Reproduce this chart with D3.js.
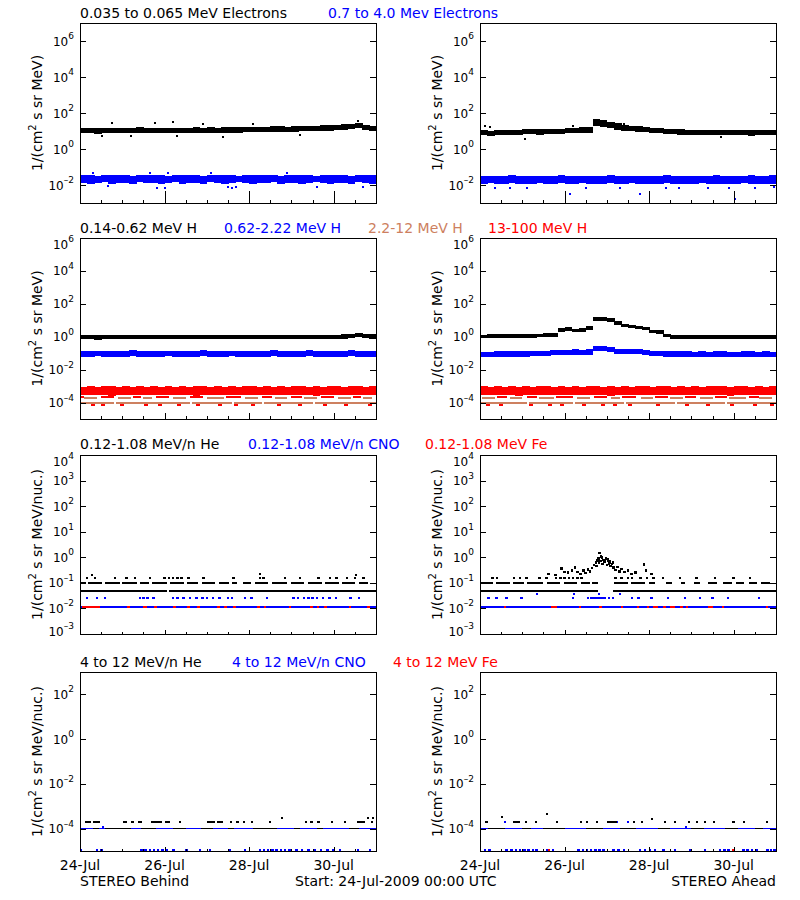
<!DOCTYPE html>
<html><head><meta charset="utf-8">
<script src="https://cdn.jsdelivr.net/npm/d3@7"></script>
<style>
body{margin:0;background:#fff;}
svg{display:block;font-family:"DejaVu Sans",sans-serif;}
</style></head><body>
<svg id="c" width="800" height="900"></svg>
<script>
// ================= DATA =================
const spanDays = 7;
const majorDays = [0, 2, 4, 6];
const majorLabels = ["24-Jul", "26-Jul", "28-Jul", "30-Jul"];
const minorDays = [0.5, 1, 1.5, 2.5, 3, 3.5, 4.5, 5, 5.5, 6.5];

// Row 1 : electrons (4-hour bins, lower / upper edge of the scatter band)
const eBehLowLo = [7.4,7.6,7.2,7.5,7.7,7.3, 7.6,7.4,7.8,7.5,7.3,7.6, 7.7,7.4,7.6,7.5,7.8,7.7, 7.9,7.6,8.0,8.2,7.9,8.3, 8.5,8.6,8.4,8.8,9.0,8.7, 9.2,9.4,9.6,9.9,10.2,10.6, 11.0,11.5,12.5,14.5,11.0,9.8];
const eBehLowHi = [15.0,15.5,14.8,15.2,15.6,14.9, 15.3,15.0,15.8,15.1,14.8,15.3, 15.5,15.0,15.4,15.1,15.9,15.6, 16.0,15.6,16.3,16.6,16.1,16.9, 17.2,17.5,17.0,17.8,18.2,17.6, 18.5,19.0,19.4,20.0,20.6,21.5, 22.5,23.0,25.0,29.0,21.0,19.5];
const eBehHighLo = [0.013,0.012,0.013,0.014,0.012,0.013, 0.013,0.012,0.014,0.013,0.013,0.012, 0.013,0.014,0.012,0.013,0.013,0.012, 0.014,0.013,0.012,0.013,0.014,0.013, 0.012,0.013,0.013,0.014,0.012,0.013, 0.013,0.012,0.013,0.014,0.013,0.012, 0.013,0.013,0.012,0.014,0.013,0.012];
const eBehHighHi = [0.034,0.036,0.033,0.035,0.037,0.034, 0.035,0.033,0.036,0.038,0.034,0.035, 0.033,0.036,0.035,0.034,0.037,0.033, 0.035,0.036,0.034,0.035,0.033,0.036, 0.035,0.034,0.037,0.035,0.033,0.036, 0.034,0.035,0.036,0.033,0.035,0.034, 0.036,0.035,0.033,0.034,0.036,0.035];
const eAhdLowLo = [5.8,5.6,5.9,5.7,6.0,6.2, 6.4,6.6,6.3,6.8,7.0,6.9, 7.3,7.6,7.9,8.2,18,16, 14,12,10.5,9.5,9.0,8.5, 8.0,7.5,7.0,6.6,6.3,6.1, 6.0,5.8,5.9,5.7,5.8,5.9, 5.7,5.8,5.6,5.9,5.8,5.7];
const eAhdLowHi = [11.0,10.6,11.2,10.8,11.5,12.0, 12.4,12.8,12.2,13.2,13.6,13.4, 14.5,15.3,16.0,16.8,44,40, 32,27,22,19.5,18,16.5, 15.5,14.5,13.5,12.8,12.2,11.8, 11.5,11.0,11.3,10.8,11.2,11.4, 10.9,11.1,10.7,11.3,11.0,10.9];
const eAhdHighLo = [0.012,0.013,0.012,0.012,0.013,0.012, 0.012,0.011,0.013,0.012,0.012,0.013, 0.012,0.012,0.013,0.012,0.011,0.012, 0.013,0.012,0.012,0.013,0.012,0.012, 0.011,0.012,0.013,0.012,0.012,0.011, 0.012,0.013,0.012,0.012,0.011,0.012, 0.012,0.013,0.012,0.012,0.011,0.012];
const eAhdHighHi = [0.031,0.033,0.030,0.032,0.034,0.031, 0.032,0.030,0.033,0.031,0.032,0.034, 0.031,0.033,0.032,0.030,0.033,0.032, 0.034,0.031,0.032,0.033,0.031,0.032, 0.030,0.033,0.034,0.031,0.032,0.030, 0.033,0.032,0.031,0.034,0.032,0.031, 0.033,0.032,0.034,0.031,0.033,0.035];
const eBehLowOut = [[0.51,5],[0.75,28],[1.2,5.5],[1.77,28],[2.19,31],[2.3,5.5],[2.91,23],[3.38,4.8],[4.1,24],[5.2,5.8],[6.57,36]];
const eBehHighOut = [[0.66,0.0083],[1.83,0.0068],[2.0,0.007],[3.5,0.0075],[3.6,0.0072],[3.7,0.0075],[5.6,0.008],[6.7,0.0078],[1.65,0.046],[2.09,0.047],[4.9,0.046],[0.3,0.045],[3.1,0.044]];
const eAhdLowOut = [[0.12,18],[0.23,16],[1.06,3.7],[5.7,4.5],[2.2,19],[3.4,23]];
const eAhdHighOut = [[2.13,0.0033],[3.78,0.0033],[6.03,0.0017],[0.35,0.007],[0.72,0.0068],[1.1,0.0072],[2.5,0.0069],[3.3,0.007],[4.4,0.0068],[4.7,0.0071],[5.4,0.0069],[5.9,0.007],[6.5,0.0068],[6.95,0.0075]];

// Row 2 : protons
const hBehLowLo = [0.68,0.70,0.67,0.69,0.70,0.68, 0.69,0.71,0.68,0.70,0.69,0.71, 0.70,0.68,0.70,0.71,0.69,0.70, 0.71,0.70,0.72,0.70,0.71,0.72, 0.71,0.73,0.72,0.71,0.73,0.72, 0.74,0.73,0.75,0.74,0.76,0.75, 0.77,0.78,0.82,0.95,0.82,0.78];
const hBehLowHi = [1.22,1.25,1.20,1.24,1.26,1.22, 1.24,1.27,1.22,1.25,1.24,1.27, 1.25,1.22,1.25,1.27,1.24,1.25, 1.27,1.25,1.28,1.25,1.27,1.28, 1.27,1.30,1.28,1.27,1.30,1.28, 1.31,1.30,1.32,1.31,1.34,1.33, 1.36,1.38,1.45,1.68,1.42,1.38];
const hBehMidLo = [0.062,0.060,0.063,0.061,0.062,0.060, 0.061,0.063,0.062,0.060,0.062,0.061, 0.063,0.061,0.062,0.060,0.062,0.063, 0.061,0.062,0.060,0.063,0.061,0.062, 0.062,0.060,0.061,0.063,0.062,0.061, 0.060,0.062,0.063,0.061,0.062,0.060, 0.062,0.061,0.063,0.062,0.061,0.062];
const hBehMidHi = [0.142,0.138,0.145,0.140,0.143,0.139, 0.141,0.146,0.142,0.139,0.144,0.141, 0.145,0.140,0.142,0.138,0.143,0.146, 0.140,0.143,0.139,0.145,0.141,0.143, 0.144,0.139,0.141,0.146,0.143,0.140, 0.139,0.143,0.146,0.141,0.144,0.140, 0.143,0.141,0.146,0.144,0.141,0.143];
const hBehHighLo = [0.00028,0.00027,0.00029,0.00028,0.00026,0.00028, 0.00029,0.00027,0.00028,0.00030,0.00028,0.00027, 0.00028,0.00029,0.00027,0.00028,0.00026,0.00028, 0.00029,0.00028,0.00027,0.00028,0.00030,0.00028, 0.00027,0.00028,0.00029,0.00027,0.00028,0.00028, 0.00029,0.00027,0.00028,0.00026,0.00028,0.00029, 0.00028,0.00027,0.00028,0.00029,0.00028,0.00027];
const hBehHighHi = [0.00092,0.00098,0.00090,0.00095,0.00102,0.00093, 0.00096,0.00090,0.00099,0.00094,0.00105,0.00092, 0.00097,0.00093,0.00100,0.00091,0.00096,0.00103, 0.00094,0.00098,0.00092,0.00097,0.00093,0.00101, 0.00095,0.00092,0.00099,0.00094,0.00097,0.00091, 0.00100,0.00095,0.00093,0.00098,0.00094,0.00102, 0.00096,0.00093,0.00099,0.00095,0.00092,0.00104];
const hAhdLowLo = [0.79,0.80,0.80,0.82,0.83,0.85, 0.86,0.88,0.90,0.93,0.98,2.0, 2.2,1.9,2.0,2.4,8.5,8.5, 7.8,5.0,3.8,3.3,3.0,2.6, 1.6,1.5,0.90,0.76,0.74,0.73, 0.72,0.71,0.72,0.70,0.71,0.72, 0.70,0.71,0.70,0.71,0.70,0.71];
const hAhdLowHi = [1.36,1.38,1.38,1.42,1.44,1.47, 1.50,1.53,1.57,1.62,1.72,3.6, 3.8,3.1,3.3,4.2,16.0,15.0, 13.5,8.5,6.0,5.2,4.6,4.0, 2.6,2.4,1.50,1.28,1.26,1.25, 1.24,1.23,1.25,1.22,1.24,1.25, 1.22,1.23,1.22,1.24,1.22,1.23];
const hAhdMidLo = [0.058,0.057,0.059,0.060,0.059,0.061, 0.062,0.063,0.064,0.066,0.075,0.078, 0.077,0.080,0.079,0.082,0.13,0.13, 0.12,0.095,0.090,0.088,0.085,0.080, 0.070,0.066,0.062,0.060,0.059,0.058, 0.057,0.058,0.056,0.057,0.058,0.056, 0.057,0.058,0.057,0.056,0.058,0.057];
const hAhdMidHi = [0.125,0.124,0.127,0.130,0.128,0.132, 0.134,0.136,0.138,0.142,0.160,0.165, 0.162,0.168,0.166,0.172,0.29,0.28, 0.25,0.19,0.18,0.175,0.17,0.16, 0.145,0.138,0.132,0.130,0.128,0.127, 0.126,0.128,0.125,0.127,0.128,0.125, 0.126,0.128,0.127,0.125,0.127,0.126];
const hAhdHighLo = [0.00027,0.00028,0.00029,0.00027,0.00028,0.00026, 0.00028,0.00029,0.00027,0.00028,0.00030,0.00028, 0.00027,0.00028,0.00029,0.00027,0.00028,0.00028, 0.00026,0.00029,0.00028,0.00027,0.00028,0.00029, 0.00028,0.00027,0.00028,0.00030,0.00028,0.00027, 0.00028,0.00029,0.00027,0.00028,0.00028,0.00026, 0.00029,0.00028,0.00027,0.00028,0.00029,0.00028];
const hAhdHighHi = [0.00095,0.00092,0.00100,0.00094,0.00097,0.00091, 0.00099,0.00093,0.00102,0.00096,0.00092,0.00098, 0.00094,0.00101,0.00093,0.00097,0.00095,0.00092, 0.00100,0.00094,0.00098,0.00093,0.00104,0.00096, 0.00092,0.00099,0.00095,0.00093,0.00101,0.00094, 0.00097,0.00092,0.00099,0.00095,0.00103,0.00093, 0.00096,0.00100,0.00094,0.00098,0.00093,0.00105];
const siennaVal = 0.000095, siennaDashVal = 0.000185, redDashVal = 0.00022, redDotVal = 0.000075;
const siennaBehSegs = [[0,0.8],[0.85,2.6],[2.65,3.6],[3.65,4.3],[4.35,5.5],[5.55,7]];
const siennaAhdSegs = [[0,1.1],[1.15,2.2],[2.25,3.4],[3.45,4.6],[4.65,5.8],[5.85,7]];
const siennaBehDash = [[0.1,0.4],[0.9,1.2],[1.5,1.7],[2.2,2.5],[3.0,3.4],[3.9,4.2],[4.6,4.9],[5.3,5.6],[6.1,6.4],[6.7,6.9]];
const siennaAhdDash = [[0.05,0.35],[0.7,1.0],[1.4,1.75],[2.3,2.6],[3.1,3.3],[3.8,4.1],[4.5,4.8],[5.2,5.5],[5.9,6.3],[6.6,6.9]];
const redBehDash = [[0.0,0.1],[0.5,0.8],[1.25,1.45],[1.8,2.1],[2.6,2.9],[3.45,3.8],[4.3,4.55],[5.0,5.25],[5.7,6.0],[6.45,6.65]];
const redAhdDash = [[0.4,0.65],[1.1,1.35],[1.8,2.2],[2.7,3.0],[3.35,3.7],[4.15,4.45],[4.85,5.1],[5.55,5.85],[6.35,6.6]];
const redBehDots = [0.3,0.55,1.0,1.55,1.9,2.35,2.8,3.3,3.7,4.1,4.7,5.2,5.8,6.3,6.85];
const redAhdDots = [0.2,0.5,1.2,1.65,1.95,2.45,2.9,3.2,3.55,4.2,4.9,5.4,5.95,6.5,6.9];

// Row 3 : 0.12-1.08 MeV/n ions
const heLowLineVal = 0.05, heLowDashVal = 0.1, heLowDotVal = 0.15, cnoLowDotVal = 0.025, cnoLowLineVal = 0.011;
const heBehLine = [[0,2.06],[2.1,7]];
const heAhdLine = [[0,2.79],[3.15,7]];
const heBehDash = [[0.02,0.14],[0.2,0.52],[0.6,0.95],[1.0,1.35],[1.42,1.62],[1.7,2.05],[2.12,2.45],[2.52,2.8],[2.88,3.2],[3.28,3.52],[3.6,3.72],[3.85,4.05],[4.15,4.45],[4.55,4.9],[5.0,5.3],[5.4,5.72],[5.8,6.12],[6.2,6.5],[6.6,6.82]];
const heAhdDash = [[0.03,0.3],[0.38,0.7],[0.78,1.05],[1.12,1.5],[1.58,1.9],[1.98,2.3],[2.38,2.6],[2.66,2.8],[3.18,3.5],[3.58,3.9],[4.0,4.15],[4.4,4.55],[4.75,4.85],[5.05,5.2],[5.4,5.6],[5.75,5.95],[6.05,6.25],[6.35,6.55],[6.65,6.85]];
const heBehDots = [0.16,0.36,0.83,1.10,1.30,1.65,2.0,2.1,2.2,2.3,2.4,2.56,2.92,3.63,4.26,4.34,4.85,5.2,5.64,5.91,6.07,6.31,6.5,6.7];
const heAhdDots = [0.3,0.4,0.8,0.95,1.1,1.41,1.57,1.8,1.9,2.0,2.1,2.2,2.3,2.4,3.2,3.35,3.5,3.6,3.8,3.95,4.1,4.33,4.73,5.12,5.56,5.99,6.39];
const heBehHigh = [[0.28,0.21],[4.26,0.22],[6.52,0.21]];
const heAhdEvent = [[1.62,0.22],[1.78,0.2],[1.93,0.36],[2.0,0.27],[2.08,0.25],[2.17,0.3],[2.25,0.4],[2.3,0.27],[2.38,0.22],[2.45,0.3],[2.5,0.24],[2.55,0.33],[2.6,0.28],[2.65,0.38],[2.7,0.5],[2.74,0.62],[2.76,0.45],[2.78,0.75],[2.8,0.9],[2.82,0.6],[2.83,1.5],[2.85,0.7],[2.86,1.05],[2.88,1.0],[2.9,0.55],[2.91,0.8],[2.93,0.8],[2.95,0.68],[2.96,0.65],[2.98,0.9],[3.0,0.5],[3.02,0.85],[3.03,0.72],[3.05,0.58],[3.06,0.6],[3.08,0.7],[3.09,0.45],[3.12,0.55],[3.14,0.62],[3.16,0.4],[3.2,0.32],[3.25,0.42],[3.3,0.28],[3.35,0.35],[3.42,0.26],[3.5,0.3],[3.58,0.22],[3.68,0.25],[3.88,0.52],[3.92,0.3],[4.05,0.22]];
const cnoBehDots = [0.16,0.4,0.59,1.42,1.5,1.6,1.74,2.2,2.3,2.45,2.6,2.75,2.9,3.0,3.15,3.3,3.5,3.6,3.9,4.06,4.42,5.05,5.15,5.3,5.4,5.5,5.6,5.75,5.9,6.05,6.4,6.6];
const cnoAhdDots = [0.2,0.39,0.63,0.98,2.2,2.55,2.62,2.68,2.75,2.8,2.85,2.9,2.95,3.05,3.15,3.6,3.75,4.06,4.45,4.85,5.2,5.5,5.87,6.6];
const cnoAhdHigh = [1.34,2.22,2.81,3.3];
const feBehSegs = [[0.04,0.47],[1.12,1.18],[1.5,1.58],[1.74,1.81],[2.21,2.28],[2.52,2.6],[2.76,2.84],[3.23,3.3],[3.4,3.47],[3.63,3.69],[4.18,4.26],[4.34,4.41],[4.94,5.0],[5.44,5.5],[5.6,5.66],[5.76,5.83],[6.35,6.41],[6.78,6.86]];
const feAhdSegs = [[0.57,0.62],[1.68,1.81],[2.34,2.39],[2.81,2.88],[3.33,3.38],[3.71,3.76],[3.94,4.0],[4.1,4.22],[4.33,4.4],[4.5,4.61],[4.73,4.8],[4.86,4.93],[5.39,5.51],[5.73,5.78],[6.76,6.81]];

// Row 4 : 4-12 MeV/n ions
const heHiDashVal = 0.0002, heHiLineVal = 0.0001, cnoHiLowVal = 0.000011;
const he4BehDash = [[0.12,0.25],[0.3,0.47],[1.02,1.1],[1.2,1.27],[1.37,1.46],[1.69,1.95],[2.0,2.13],[2.34,2.4],[3.01,3.2],[3.25,3.39],[3.55,3.6],[3.7,3.75],[3.85,3.9],[4.05,4.1],[4.47,4.52],[5.32,5.37],[5.45,5.5],[5.6,5.67],[5.93,5.98],[6.25,6.3],[6.54,6.74],[6.88,6.93]];
const he4AhdDash = [[0.12,0.2],[0.79,0.95],[1.07,1.12],[1.3,1.35],[1.79,1.84],[2.36,2.42],[2.5,2.56],[2.74,2.79],[3.0,3.23],[3.61,3.66],[3.8,3.85],[4.35,4.4],[4.59,4.64],[4.91,4.96],[5.1,5.15],[5.3,5.35],[5.5,5.55],[5.97,6.02],[6.21,6.26],[6.76,6.81]];
const he4BehHigh = [[4.77,0.0003],[6.8,0.0003],[6.93,0.0003]];
const he4AhdHigh = [[0.51,0.00033],[1.58,0.00045],[4.07,0.00027]];
const cno4BehLineSegs = [[0,0.3],[0.45,0.6],[1.2,1.45],[1.8,2.2],[2.5,2.85],[3.15,3.5],[3.65,4.1],[4.65,5.05],[5.2,5.6],[5.75,6.35],[6.6,7]];
const cno4AhdLineSegs = [[0,0.2],[0.6,1.0],[1.2,1.5],[2.0,2.5],[2.9,3.3],[3.7,4.2],[4.5,5.0],[5.3,5.8],[6.1,6.5],[6.7,7]];
const cno4BehLow = [0.02,0.4,0.51,1.45,1.55,1.65,1.75,1.85,1.95,2.05,2.21,2.52,2.84,3.07,3.55,3.9,4.26,4.35,4.45,4.55,4.65,4.75,4.85,4.95,5.12,5.25,5.4,5.55,5.7,5.85,6.0,6.15,6.58,6.86];
const cno4AhdLow = [0.12,0.22,0.63,0.75,0.85,0.95,1.05,1.15,1.25,1.34,1.58,1.73,2.33,2.43,2.53,2.63,2.73,2.83,2.92,3.16,3.28,3.4,3.78,3.9,4.02,4.14,4.34,4.61,4.97,5.32,5.67,5.78,5.88,6.23,6.33,6.43,6.54,6.8,6.88,6.96];
const cno4BehUp = [[0.55,0.00012]];
const cno4AhdUp = [[4.87,0.00012],[0.14,0.0002],[0.6,0.0002],[3.24,0.0002],[3.5,0.0002]];
const fe4BehLow = [0.0];
const fe4AhdLow = [1.63,5.99];

// Titles
const rowTitles = [
  [["0.035 to 0.065 MeV Electrons", "#000", 80], ["0.7 to 4.0 Mev Electrons", "#0000ff", 328]],
  [["0.14-0.62 MeV H", "#000", 80], ["0.62-2.22 MeV H", "#0000ff", 224], ["2.2-12 MeV H", "#cd8060", 368], ["13-100 MeV H", "#ff0000", 488]],
  [["0.12-1.08 MeV/n He", "#000", 80], ["0.12-1.08 MeV/n CNO", "#0000ff", 248], ["0.12-1.08 MeV Fe", "#ff0000", 425]],
  [["4 to 12 MeV/n He", "#000", 80], ["4 to 12 MeV/n CNO", "#0000ff", 232], ["4 to 12 MeV Fe", "#ff0000", 393]]
];
const titleBaselines = [18, 233, 449, 667];

// ================= LAYOUT =================
const BLACK = "#000", BLUE = "#0000ff", RED = "#ff0000", SIENNA = "#cd8060";
const cols = [{x0: 80, x1: 376}, {x0: 480, x1: 776}];
const rows = [
  {top: 23, bottom: 203, domain: [1e-3, 1e7], exps: [-2, 0, 2, 4, 6], maj: 12, min: 3, unit: " s sr MeV)"},
  {top: 238, bottom: 419, domain: [1e-5, 1e6], exps: [-4, -2, 0, 2, 4, 6], maj: 6, min: 3, unit: " s sr MeV)"},
  {top: 455, bottom: 634, domain: [1e-3, 1e4], exps: [-3, -2, -1, 0, 1, 2, 3, 4], maj: 4, min: 2, unit: " s sr MeV/nuc.)"},
  {top: 672, bottom: 851, domain: [1e-5, 1e3], exps: [-4, -2, 0, 2], maj: 4, min: 2, unit: " s sr MeV/nuc.)"}
];

const svg = d3.select("#c");
svg.append("rect").attr("width", 800).attr("height", 900).attr("fill", "#fff");
const defs = svg.append("defs");

function panel(r, c, drawFn) {
  const R = rows[r], C = cols[c];
  const x = d3.scaleLinear().domain([0, spanDays]).range([C.x0, C.x1]);
  const y = d3.scaleLog().domain(R.domain).range([R.bottom, R.top]);
  const id = "clip" + r + c;
  defs.append("clipPath").attr("id", id).append("rect")
    .attr("x", C.x0).attr("y", R.top).attr("width", C.x1 - C.x0).attr("height", R.bottom - R.top);
  const g = svg.append("g");
  const data = g.append("g").attr("clip-path", "url(#" + id + ")").attr("shape-rendering", "crispEdges");
  drawFn(data, x, y);
  // frame
  g.append("rect").attr("x", C.x0 + 0.5).attr("y", R.top + 0.5).attr("width", C.x1 - C.x0).attr("height", R.bottom - R.top)
    .attr("fill", "none").attr("stroke", "#000").attr("stroke-width", 1).attr("shape-rendering", "crispEdges");
  // y ticks both sides
  const tk = g.append("g").attr("stroke", "#000").attr("shape-rendering", "crispEdges");
  R.exps.forEach(e => {
    const yv = y(Math.pow(10, e));
    const yy = Math.round(yv) + 0.5;
    tk.append("line").attr("x1", C.x0).attr("x2", C.x0 + 6).attr("y1", yy).attr("y2", yy);
    tk.append("line").attr("x1", C.x1 - 6).attr("x2", C.x1).attr("y1", yy).attr("y2", yy);
    // labels are kept inside the axis extent (as in the reference)
    const ly = Math.min(Math.max(yv, R.top + 6), R.bottom - 3);
    const t = g.append("text").attr("x", C.x0 - 6).attr("y", ly + 4.5)
      .attr("text-anchor", "end").attr("font-size", 12).attr("fill", "#000");
    t.append("tspan").text("10");
    t.append("tspan").attr("font-size", 9).attr("dy", -6.5).text(e < 0 ? "\u2013" + (-e) : String(e));
  });
  // x ticks
  majorDays.forEach(d => {
    const xx = Math.round(x(d)) + 0.5;
    tk.append("line").attr("x1", xx).attr("x2", xx).attr("y1", R.bottom).attr("y2", R.bottom - R.maj);
  });
  minorDays.forEach(d => {
    const xx = Math.round(x(d)) + 0.5;
    tk.append("line").attr("x1", xx).attr("x2", xx).attr("y1", R.bottom).attr("y2", R.bottom - R.min);
  });
  // y title
  const cy = (R.top + R.bottom) / 2, tx = C.x0 - 38.5;
  const yt = g.append("text").attr("transform", `translate(${tx},${cy}) rotate(-90)`)
    .attr("text-anchor", "middle").attr("font-size", 14).attr("fill", "#000");
  yt.append("tspan").text("1/(cm");
  yt.append("tspan").attr("font-size", 10).attr("dy", -6).text("2");
  yt.append("tspan").attr("dy", 6).text(R.unit);
}

function band(g, x, y, lo, hi, color) {
  const n = lo.length, w = spanDays / n;
  g.append("g").selectAll("rect").data(lo.map((v, i) => [i, v, hi[i]])).join("rect")
    .attr("x", d => x(d[0] * w)).attr("width", d => x((d[0] + 1) * w) - x(d[0] * w) + 0.6)
    .attr("y", d => y(d[2])).attr("height", d => Math.max(2, y(d[1]) - y(d[2])))
    .attr("fill", color);
}
function dots(g, x, y, pts, color, w = 2, h = 2) {
  g.append("g").selectAll("rect").data(pts).join("rect")
    .attr("x", d => x(d[0]) - w / 2).attr("y", d => y(d[1]) - h / 2)
    .attr("width", w).attr("height", h).attr("fill", color);
}
function dotsAt(g, x, y, days, val, color, w = 2.5, h = 2) {
  dots(g, x, y, days.map(d => [d, val]), color, w, h);
}
function segs(g, x, y, list, val, color, h = 2) {
  g.append("g").selectAll("rect").data(list).join("rect")
    .attr("x", d => x(d[0])).attr("width", d => Math.max(2, x(d[1]) - x(d[0])))
    .attr("y", y(val) - h / 2).attr("height", h).attr("fill", color);
}

// Row 1
panel(0, 0, (g, x, y) => {
  band(g, x, y, eBehLowLo, eBehLowHi, BLACK); dots(g, x, y, eBehLowOut, BLACK);
  band(g, x, y, eBehHighLo, eBehHighHi, BLUE); dots(g, x, y, eBehHighOut, BLUE);
});
panel(0, 1, (g, x, y) => {
  band(g, x, y, eAhdLowLo, eAhdLowHi, BLACK); dots(g, x, y, eAhdLowOut, BLACK);
  band(g, x, y, eAhdHighLo, eAhdHighHi, BLUE); dots(g, x, y, eAhdHighOut, BLUE);
});
// Row 2
panel(1, 0, (g, x, y) => {
  segs(g, x, y, siennaBehSegs, siennaVal, SIENNA);
  segs(g, x, y, siennaBehDash, siennaDashVal, SIENNA);
  segs(g, x, y, redBehDash, redDashVal, RED);
  dotsAt(g, x, y, redBehDots, redDotVal, RED, 4, 2);
  band(g, x, y, hBehHighLo, hBehHighHi, RED);
  band(g, x, y, hBehMidLo, hBehMidHi, BLUE);
  band(g, x, y, hBehLowLo, hBehLowHi, BLACK);
});
panel(1, 1, (g, x, y) => {
  segs(g, x, y, siennaAhdSegs, siennaVal, SIENNA);
  segs(g, x, y, siennaAhdDash, siennaDashVal, SIENNA);
  segs(g, x, y, redAhdDash, redDashVal, RED);
  dotsAt(g, x, y, redAhdDots, redDotVal, RED, 4, 2);
  band(g, x, y, hAhdHighLo, hAhdHighHi, RED);
  band(g, x, y, hAhdMidLo, hAhdMidHi, BLUE);
  band(g, x, y, hAhdLowLo, hAhdLowHi, BLACK);
});
// Row 3
panel(2, 0, (g, x, y) => {
  segs(g, x, y, [[0, 7]], cnoLowLineVal, BLUE);
  segs(g, x, y, feBehSegs, cnoLowLineVal, RED);
  dotsAt(g, x, y, cnoBehDots, cnoLowDotVal, BLUE, 2.5, 2);
  segs(g, x, y, heBehLine, heLowLineVal, BLACK);
  segs(g, x, y, heBehDash, heLowDashVal, BLACK);
  dotsAt(g, x, y, heBehDots, heLowDotVal, BLACK, 2.5, 2);
  dots(g, x, y, heBehHigh, BLACK);
});
panel(2, 1, (g, x, y) => {
  segs(g, x, y, [[0, 7]], cnoLowLineVal, BLUE);
  segs(g, x, y, feAhdSegs, cnoLowLineVal, RED);
  dotsAt(g, x, y, cnoAhdDots, cnoLowDotVal, BLUE, 2.5, 2);
  dotsAt(g, x, y, cnoAhdHigh, 0.036, BLUE, 2, 2);
  segs(g, x, y, heAhdLine, heLowLineVal, BLACK);
  segs(g, x, y, heAhdDash, heLowDashVal, BLACK);
  dotsAt(g, x, y, heAhdDots, heLowDotVal, BLACK, 2.5, 2);
  dots(g, x, y, heAhdEvent, BLACK, 2.5, 2.5);
});
// Row 4
panel(3, 0, (g, x, y) => {
  segs(g, x, y, [[0, 7]], heHiLineVal, BLACK, 1.5);
  segs(g, x, y, cno4BehLineSegs, heHiLineVal, BLUE, 1.5);
  dotsAt(g, x, y, cno4BehLow, cnoHiLowVal, BLUE, 2.5, 2);
  dotsAt(g, x, y, fe4BehLow, cnoHiLowVal, RED, 2.5, 2);
  dots(g, x, y, cno4BehUp, BLUE);
  segs(g, x, y, he4BehDash, heHiDashVal, BLACK);
  dots(g, x, y, he4BehHigh, BLACK);
});
panel(3, 1, (g, x, y) => {
  segs(g, x, y, [[0, 7]], heHiLineVal, BLACK, 1.5);
  segs(g, x, y, cno4AhdLineSegs, heHiLineVal, BLUE, 1.5);
  dotsAt(g, x, y, cno4AhdLow, cnoHiLowVal, BLUE, 2.5, 2);
  dotsAt(g, x, y, fe4AhdLow, cnoHiLowVal, RED, 2.5, 2);
  dots(g, x, y, cno4AhdUp, BLUE);
  segs(g, x, y, he4AhdDash, heHiDashVal, BLACK);
  dots(g, x, y, he4AhdHigh, BLACK);
});

// Titles
rowTitles.forEach((list, r) => {
  list.forEach(t => {
    svg.append("text").attr("x", t[2]).attr("y", titleBaselines[r]).attr("font-size", 14)
      .attr("fill", t[1]).text(t[0]);
  });
});

// Bottom date labels
cols.forEach(C => {
  const x = d3.scaleLinear().domain([0, spanDays]).range([C.x0, C.x1]);
  majorDays.forEach((d, i) => {
    svg.append("text").attr("x", x(d)).attr("y", 870).attr("text-anchor", "middle")
      .attr("font-size", 14).attr("fill", "#000").text(majorLabels[i]);
  });
});
svg.append("text").attr("x", 80).attr("y", 886).attr("font-size", 14).text("STEREO Behind");
svg.append("text").attr("x", 295).attr("y", 886).attr("font-size", 14).text("Start: 24-Jul-2009 00:00 UTC");
svg.append("text").attr("x", 776).attr("y", 886).attr("text-anchor", "end").attr("font-size", 14).text("STEREO Ahead");
</script>
</body></html>
